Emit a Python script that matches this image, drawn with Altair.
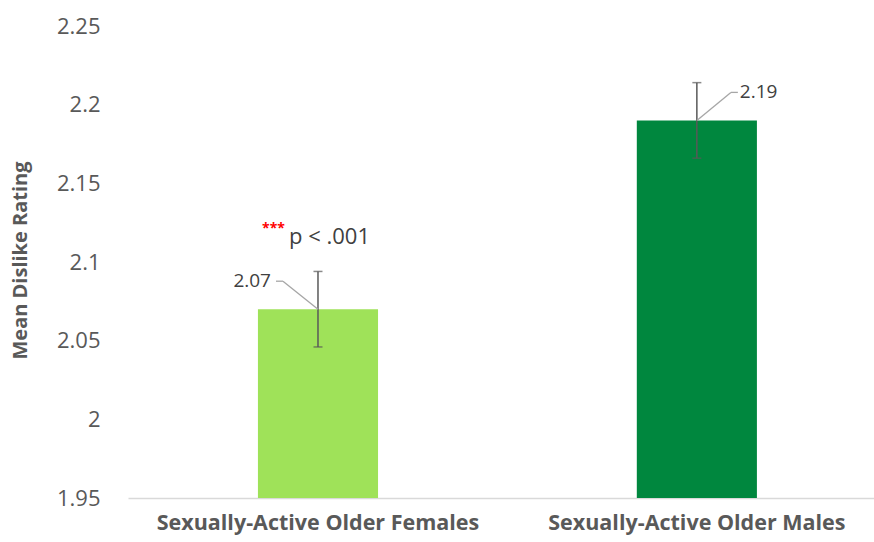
import altair as alt
import pandas as pd

# Group means with their error margins
groups = ["Sexually-Active Older Females", "Sexually-Active Older Males"]
means = [2.07, 2.19]
errors = [0.024, 0.024]
bar_colors = ["#9FE259", "#00873E"]
y_ticks = [1.95, 2.0, 2.05, 2.1, 2.15, 2.2, 2.25]
y_floor = 1.95
sig_stars = "***"
sig_text = "p < .001"

df = pd.DataFrame({"group": groups, "mean": means, "err": errors})
df["lo"] = df["mean"] - df["err"]
df["hi"] = df["mean"] + df["err"]
df["label"] = df["mean"].map(lambda v: f"{v:.2f}")

FONT = "Open Sans"
GRAY = "#595959"
DARK = "#404040"
LEADER = "#A6A6A6"

x_main = alt.X(
    "group:N",
    sort=groups,
    scale=alt.Scale(paddingInner=0.683, paddingOuter=0.326, align=0.526),
    axis=alt.Axis(
        title=None, labelAngle=0, labelFont=FONT, labelFontSize=21.5,
        labelFontWeight="bold", labelColor=GRAY, labelPadding=14, labelLimit=0,
        ticks=False, domainColor="#D9D9D9", domainWidth=1.5,
    ),
)
y_scale = alt.Scale(domain=[1.95, 2.25], zero=False, nice=False)

base = alt.Chart(df)

bars = base.mark_bar().encode(
    x=x_main,
    y=alt.Y(
        "mean:Q", scale=y_scale,
        axis=alt.Axis(
            values=y_ticks, format="~g", grid=False, ticks=False, domain=False,
            labelFont=FONT, labelFontSize=22, labelColor=GRAY, labelPadding=28,
            title="Mean Dislike Rating", titleFont=FONT, titleFontSize=20,
            titleFontWeight="bold", titleColor=GRAY, titleAngle=-90,
            titleAlign="center", titleBaseline="middle", titleX=-108, titleY=234,
        ),
    ),
    y2=alt.Y2(datum=y_floor),
    color=alt.Color("group:N", scale=alt.Scale(domain=groups, range=bar_colors), legend=None),
)

x_c = alt.X("group:N", sort=groups, bandPosition=0.5)
x2_c = alt.X2("group:N", bandPosition=0.5)

err_rule = base.mark_rule(color=GRAY, strokeWidth=1.5).encode(x=x_c, y="lo:Q", y2="hi:Q")
cap_lo = base.mark_tick(orient="horizontal", size=9, thickness=1.5, color=GRAY).encode(x=x_c, y="lo:Q")
cap_hi = base.mark_tick(orient="horizontal", size=9, thickness=1.5, color=GRAY).encode(x=x_c, y="hi:Q")

female = base.transform_filter(alt.datum.group == groups[0])
male = base.transform_filter(alt.datum.group == groups[1])


def leader(sub, d1, d2, dy):
    diag = sub.mark_rule(color=LEADER, strokeWidth=1.3, x2Offset=d1, y2Offset=dy).encode(
        x=x_c, x2=x2_c, y="mean:Q", y2="mean:Q"
    )
    flat = sub.mark_rule(
        color=LEADER, strokeWidth=1.3, xOffset=d1, x2Offset=d2, yOffset=dy, y2Offset=dy
    ).encode(x=x_c, x2=x2_c, y="mean:Q", y2="mean:Q")
    return diag + flat


f_leader = leader(female, -35, -42, -28)
m_leader = leader(male, 34, 41, -28)

f_label = female.mark_text(
    align="right", baseline="middle", dx=-47, dy=-28, fontSize=19, color=DARK, font=FONT
).encode(x=x_c, y="mean:Q", text="label:N")
m_label = male.mark_text(
    align="left", baseline="middle", dx=43, dy=-28, fontSize=19, color=DARK, font=FONT
).encode(x=x_c, y="mean:Q", text="label:N")

p_text = female.mark_text(
    align="left", baseline="middle", dx=-29, dy=-72, fontSize=22, color=DARK, font=FONT
).encode(x=x_c, y="mean:Q", text=alt.value(sig_text))
p_stars = female.mark_text(
    align="right", baseline="middle", dx=-33, dy=-80, fontSize=14, fontWeight="bold",
    color="#FF0000", font=FONT
).encode(x=x_c, y="mean:Q", text=alt.value(sig_stars))

chart = (
    alt.layer(bars, err_rule, cap_lo, cap_hi, f_leader, m_leader, f_label, m_label, p_text, p_stars)
    .properties(
        width=746, height=472, autosize="none",
        padding={"left": 128, "top": 26, "right": 0, "bottom": 40},
    )
    .configure_view(stroke=None)
)

chart.save("out.html", embed_options={"renderer": "svg", "actions": False})
